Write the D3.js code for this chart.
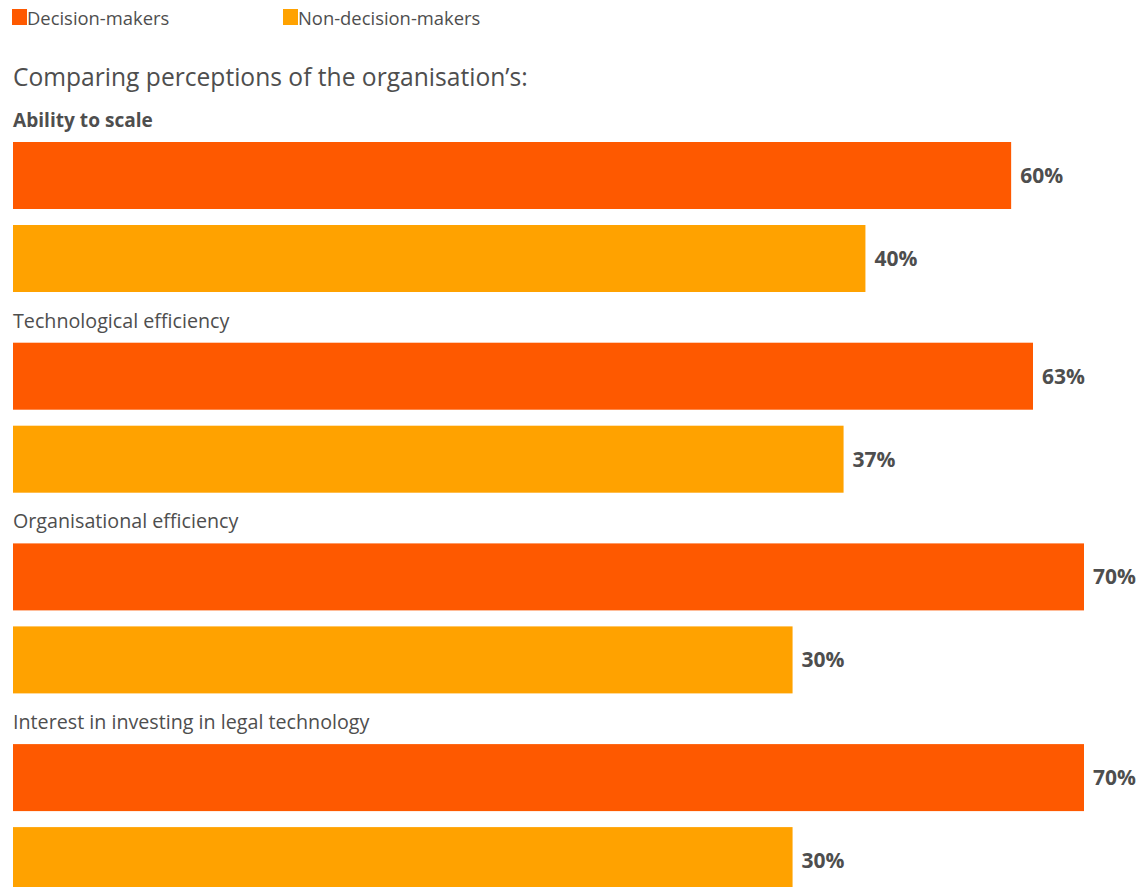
<!DOCTYPE html>
<html>
<head>
<meta charset="utf-8">
<script src="https://cdn.jsdelivr.net/npm/d3@7"></script>
<style>
  html, body { margin: 0; padding: 0; background: #ffffff; }
  svg { display: block; font-family: "Open Sans", "Noto Sans", sans-serif; }
</style>
</head>
<body>
<svg id="chart" width="1140" height="887"></svg>
<script>
// Survey shares by role, one pair of bars per perception
const categories = [
  "Ability to scale",
  "Technological efficiency",
  "Organisational efficiency",
  "Interest in investing in legal technology"
];
const series = ["Decision-makers", "Non-decision-makers"];
const decisionMakers = [60, 63, 70, 70];
const nonDecisionMakers = [40, 37, 30, 30];
const title = "Comparing perceptions of the organisation\u2019s:";

const colors = d3.scaleOrdinal().domain(series).range(["#fe5900", "#ffa200"]);
const textColor = "#4e4e4e";

const svg = d3.select("#chart");
const marginLeft = 13;

// Horizontal value scale: the baseline sits left of zero so short bars keep their length
const x = d3.scaleLinear().domain([-77, 70]).range([marginLeft, 1084]);

// One band per perception, and a sub-band per respondent group
const y = d3.scaleBand().domain(categories).range([142, 142 + 4 * 200.7]);
const ySub = d3.scaleBand().domain(series).range([0, 150]).paddingInner(16 / 83);

// Legend
const legend = svg.append("g").attr("class", "legend");
const legendX = [12, 283];
series.forEach((s, i) => {
  const g = legend.append("g").attr("transform", `translate(${legendX[i]},9)`);
  g.append("rect").attr("width", 15).attr("height", 16).attr("fill", colors(s));
  g.append("text")
    .attr("x", 15).attr("y", 16)
    .attr("fill", textColor)
    .style("font-size", "18.4px")
    .text(s);
});

// Heading
svg.append("text")
  .attr("x", marginLeft).attr("y", 86)
  .attr("fill", textColor)
  .style("font-size", "24.6px")
  .text(title);

const rows = categories.map((c, i) => ({
  category: c,
  values: [
    { key: series[0], value: decisionMakers[i] },
    { key: series[1], value: nonDecisionMakers[i] }
  ]
}));

const group = svg.selectAll("g.row")
  .data(rows)
  .join("g")
  .attr("class", "row")
  .attr("transform", d => `translate(0,${y(d.category)})`);

group.append("text")
  .attr("x", marginLeft).attr("y", -15)
  .attr("fill", textColor)
  .style("font-size", (d, i) => i === 0 ? "19.1px" : "19.7px")
  .style("font-weight", (d, i) => i === 0 ? 700 : 400)
  .text(d => d.category);

const bar = group.selectAll("g.bar")
  .data(d => d.values)
  .join("g")
  .attr("class", "bar")
  .attr("transform", d => `translate(0,${ySub(d.key)})`);

bar.append("rect")
  .attr("x", x(x.domain()[0]))
  .attr("height", ySub.bandwidth())
  .attr("width", d => x(d.value) - x(x.domain()[0]))
  .attr("fill", d => colors(d.key));

bar.append("text")
  .attr("x", d => x(d.value) + 9)
  .attr("y", ySub.bandwidth() / 2)
  .attr("dy", "0.36em")
  .attr("fill", textColor)
  .style("font-size", "21px")
  .style("font-weight", 700)
  .text(d => d.value + "%");
</script>
</body>
</html>
